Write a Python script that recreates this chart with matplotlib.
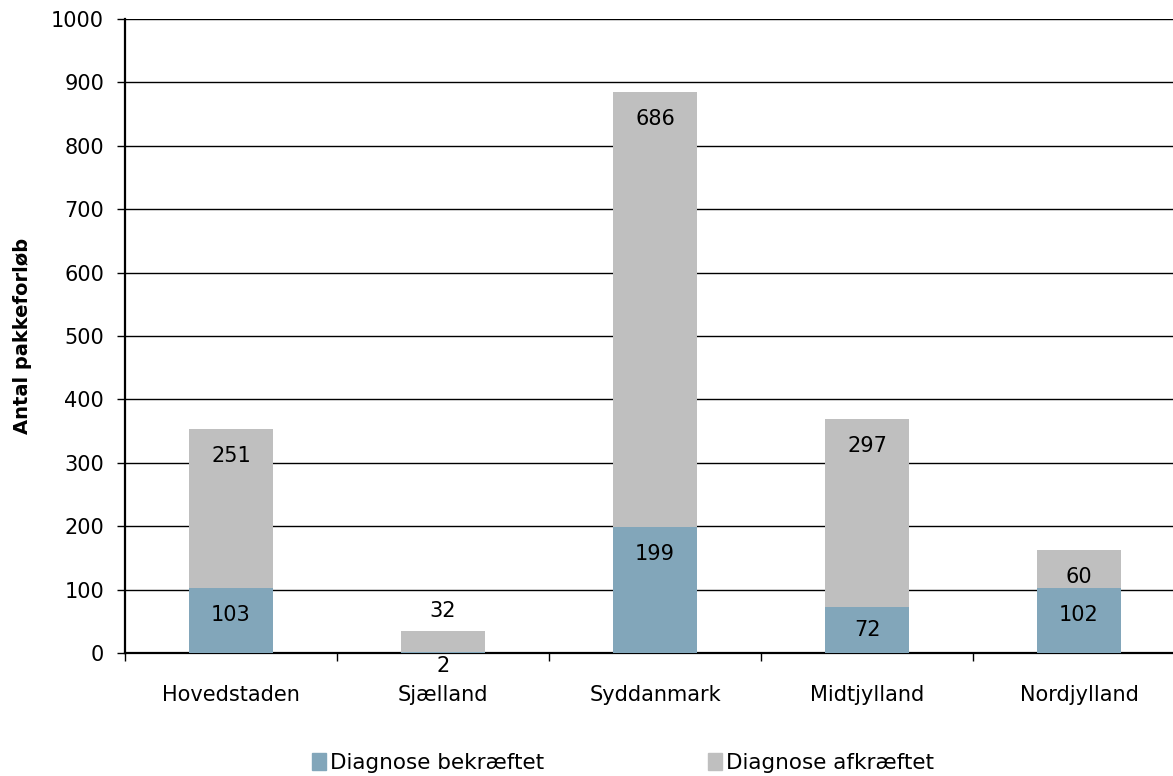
import matplotlib.pyplot as plt
import numpy as np
from matplotlib.patches import Patch

regions = ["Hovedstaden", "Sjælland", "Syddanmark", "Midtjylland", "Nordjylland"]
confirmed = [103, 2, 199, 72, 102]
rejected = [251, 32, 686, 297, 60]
series_names = ["Diagnose bekræftet", "Diagnose afkræftet"]
yticks = [0, 100, 200, 300, 400, 500, 600, 700, 800, 900, 1000]

blue = "#82A6BA"
gray = "#BFBFBF"
FS = 15

plt.rcParams['font.family'] = ['DejaVu Sans']

W, H = 1173, 776
fig = plt.figure(figsize=(W / 100, H / 100), dpi=100)
ax = fig.add_axes([125 / W, 123 / H, 1060 / W, 634 / H])

x = np.arange(len(regions))
w = 0.4
ax.bar(x, confirmed, width=w, color=blue, zorder=3)
ax.bar(x, rejected, width=w, bottom=confirmed, color=gray, zorder=3)

ax.set_xlim(-0.5, len(regions) - 0.5)
ax.set_ylim(0, 1000)
ax.set_yticks(yticks)
ax.set_yticklabels([str(v) for v in yticks], fontsize=FS)
ax.yaxis.grid(True, color="black", linewidth=1.0, zorder=0)
ax.set_axisbelow(True)

# category boundaries as x ticks, names centred under each bar
ax.set_xticks(np.arange(-0.5, len(regions), 1.0))
ax.set_xticklabels([])
ax.set_xticks(x, minor=True)
ax.set_xticklabels(regions, minor=True, fontsize=FS)
ax.tick_params(axis='x', which='minor', length=0, pad=23)
ax.tick_params(axis='x', which='major', length=6, width=1, direction='out')
ax.tick_params(axis='y', length=6, width=1, direction='out', pad=9)

for s in ["top", "right"]:
    ax.spines[s].set_visible(False)
ax.spines["left"].set_linewidth(1.6)
ax.spines["bottom"].set_linewidth(1.6)

ax.set_ylabel("Antal pakkeforløb", fontsize=14, fontweight="bold")
ax.yaxis.set_label_coords(-0.088, 0.5)

# value labels near the inner end of each segment
px = 72 / 100  # points per pixel
scale = 634 / 1000  # pixels per unit
for i in range(len(regions)):
    c, r = confirmed[i], rejected[i]
    if c * scale >= 20:
        off = min(27, c * scale / 2)
        ax.annotate(str(c), (x[i], c), xytext=(0, -off * px), textcoords="offset points",
                    ha="center", va="center", fontsize=FS, zorder=4)
    else:
        ax.annotate(str(c), (x[i], 0), xytext=(0, -13 * px), textcoords="offset points",
                    ha="center", va="center", fontsize=FS, zorder=4,
                    annotation_clip=False)
    if r * scale >= 30:
        ax.annotate(str(r), (x[i], c + r), xytext=(0, -27 * px), textcoords="offset points",
                    ha="center", va="center", fontsize=FS, zorder=4)
    else:
        ax.annotate(str(r), (x[i], c + r), xytext=(0, 20 * px), textcoords="offset points",
                    ha="center", va="center", fontsize=FS, zorder=4)

handles = [Patch(color=blue), Patch(color=gray)]
fig.legend(handles, series_names, loc="center", bbox_to_anchor=(623 / W, 1 - 763 / H),
           ncol=2, frameon=False, fontsize=15.5, handlelength=0.65, handleheight=0.8,
           handletextpad=0.2, columnspacing=7.6, borderpad=0, borderaxespad=0)

fig.savefig("out.png", dpi=100)
